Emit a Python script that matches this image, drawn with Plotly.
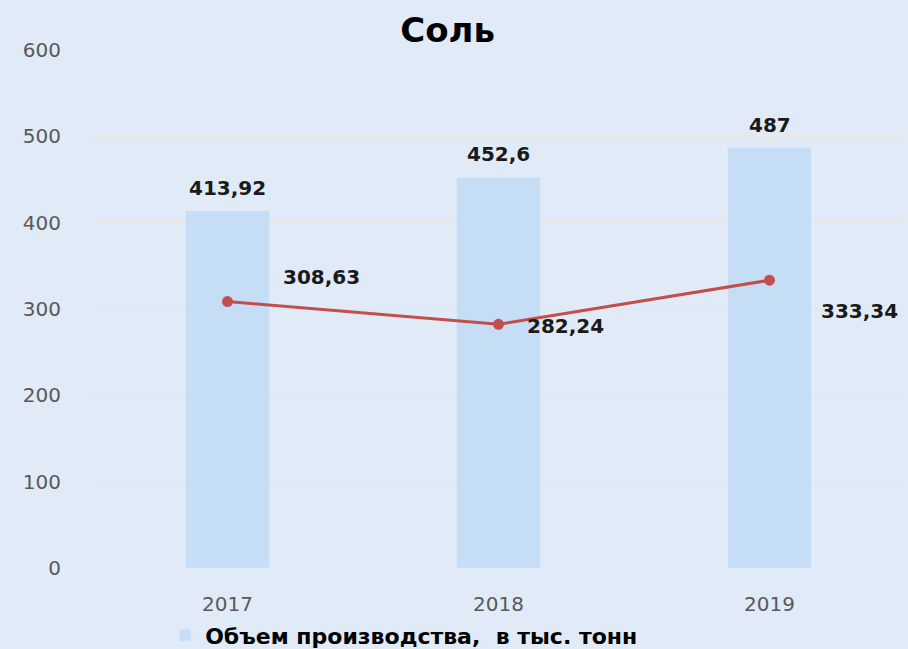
import plotly.graph_objects as go

years = ["2017", "2018", "2019"]
production = [413.92, 452.6, 487]
line_values = [308.63, 282.24, 333.34]
bar_labels = ["413,92", "452,6", "487"]
line_labels = ["308,63", "282,24", "333,34"]
y_ticks = [0, 100, 200, 300, 400, 500, 600]

x_pos = list(range(len(years)))

BG = "#e0ebf7"
BAR = "#c6ddf6"
RED = "#c44e4b"
FONT = "DejaVu Sans"

fig = go.Figure()
fig.add_trace(go.Bar(
    x=x_pos, y=production, width=0.31, marker_color=BAR,
    name="<b>Объем производства,  в тыс. тонн</b>", showlegend=True,
    hoverinfo="skip",
))
fig.add_trace(go.Scatter(
    x=x_pos, y=line_values, mode="lines+markers",
    line=dict(color=RED, width=3), marker=dict(color=RED, size=11),
    showlegend=False, hoverinfo="skip",
))

annotations = []
for i, (v, t) in enumerate(zip(production, bar_labels)):
    annotations.append(dict(x=i, y=v, text=f"<b>{t}</b>", showarrow=False,
                            yshift=23, yanchor="middle",
                            font=dict(family=FONT, size=20, color="#1a1a1a")))
line_offsets = [(94, 25), (67, -2), (90, -31)]
for i, (v, t) in enumerate(zip(line_values, line_labels)):
    dx, dy = line_offsets[i]
    annotations.append(dict(x=i, y=v, text=f"<b>{t}</b>", showarrow=False,
                            xshift=dx, yshift=dy, yanchor="middle",
                            font=dict(family=FONT, size=20, color="#1a1a1a")))

fig.update_layout(
    width=908, height=649,
    margin=dict(l=92, r=3, t=50, b=81, autoexpand=False),
    paper_bgcolor=BG, plot_bgcolor=BG,
    title=dict(text="<b>Соль</b>", x=0.493, xanchor="center", y=0.953, yanchor="middle",
               font=dict(family=FONT, size=34, color="#000000")),
    xaxis=dict(range=[-0.5, 2.5], tickvals=x_pos, ticktext=years,
               showgrid=False, zeroline=False, showline=False,
               ticks="", ticklabelstandoff=22,
               tickfont=dict(family=FONT, size=20, color="#595959")),
    yaxis=dict(range=[0, 600], tickvals=y_ticks, showgrid=True,
               gridcolor="#e9e3dc", gridwidth=1, zeroline=False, showline=False,
               ticks="", ticklabelstandoff=30,
               tickfont=dict(family=FONT, size=20, color="#595959")),
    legend=dict(orientation="h", x=0.09, xanchor="left", y=-0.13, yanchor="middle",
                bgcolor="rgba(0,0,0,0)",
                font=dict(family=FONT, size=22, color="#000000")),
    annotations=annotations,
    bargap=0.69,
)

fig.write_html(
    "out.html",
    config={"displayModeBar": False},
    post_script="document.body.style.margin='0';document.body.style.background='#e0ebf7';",
)
